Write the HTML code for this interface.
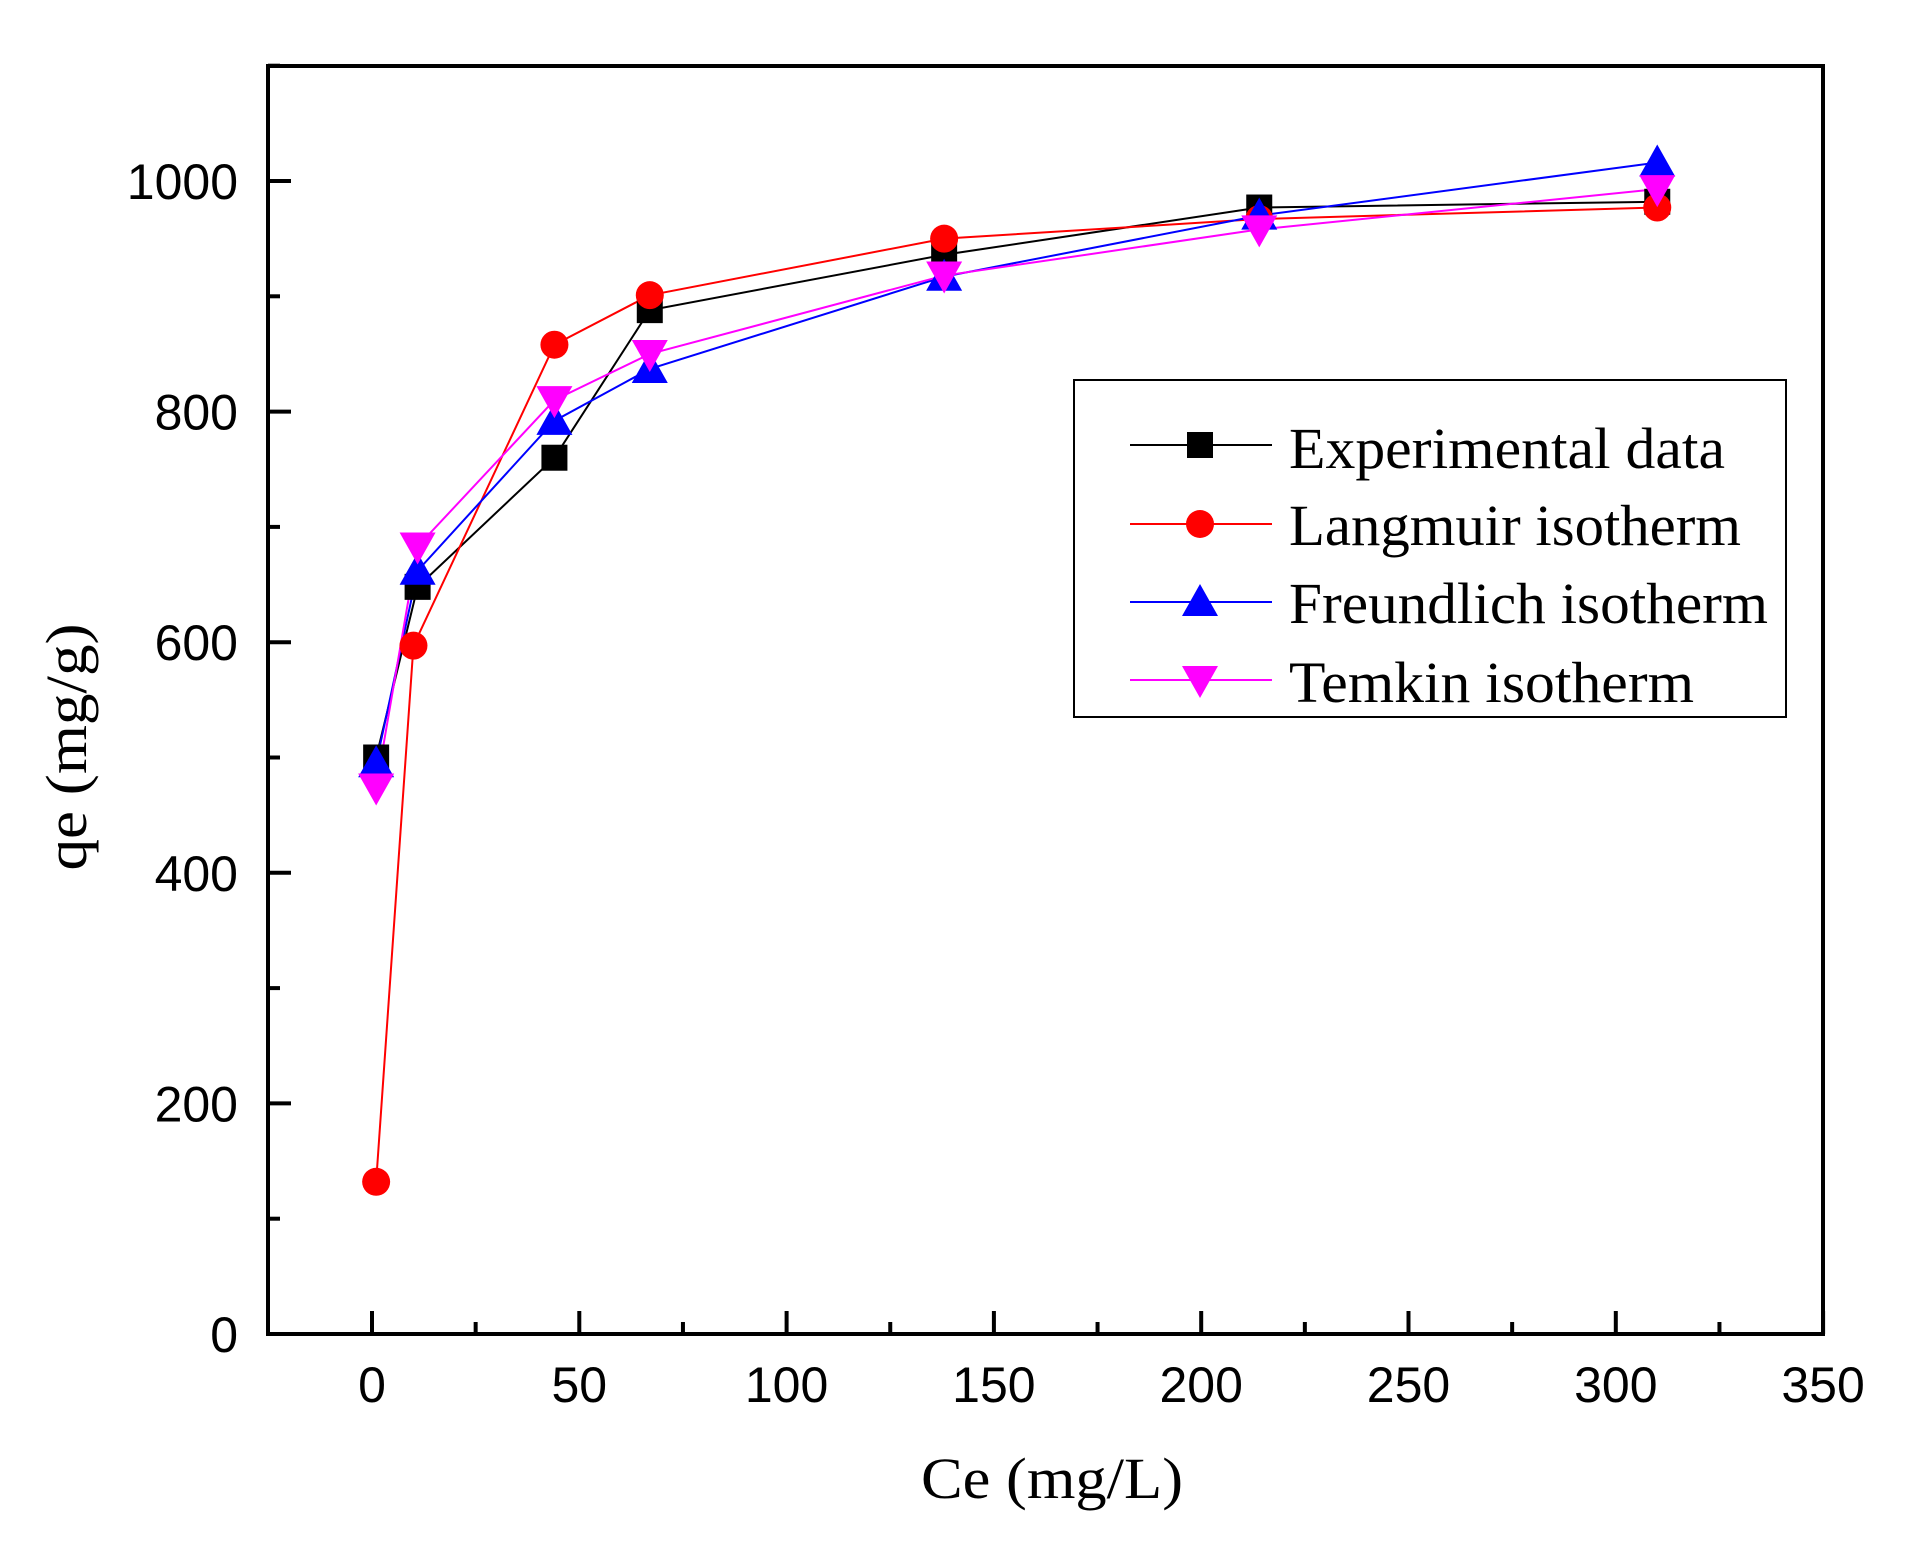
<!DOCTYPE html>
<html><head><meta charset="utf-8"><style>html,body{margin:0;padding:0;background:#fff}svg{display:block}</style></head>
<body>
<svg width="1926" height="1545" viewBox="0 0 1926 1545" xmlns="http://www.w3.org/2000/svg">
<rect width="1926" height="1545" fill="#fff"/>
<g id="plot"></g>
<script>
(function(){
var NS="http://www.w3.org/2000/svg",g=document.getElementById('plot');
function X(v){return 372+v*4.146;}
function Y(v){return 1334-v*1.153;}
function el(t,a,txt){var e=document.createElementNS(NS,t);for(var k in a)e.setAttribute(k,a[k]);if(txt!=null)e.textContent=txt;g.appendChild(e);return e;}
for(var v=0;v<=350;v+=25){var maj=v%50==0;el('line',{x1:X(v),x2:X(v),y1:1334,y2:1334-(maj?23:12),stroke:'#000','stroke-width':4});
 if(maj)el('text',{x:X(v),y:1402,'text-anchor':'middle','font-family':'Liberation Sans, Arial, sans-serif','font-size':50},String(v));}
for(var v=0;v<=1100;v+=100){var maj=v%200==0;el('line',{x1:268,x2:268+(maj?23:12),y1:Y(v),y2:Y(v),stroke:'#000','stroke-width':4});
 if(maj)el('text',{x:238,y:Y(v)+18,'text-anchor':'end','font-family':'Liberation Sans, Arial, sans-serif','font-size':50},String(v));}
el('rect',{x:268,y:66,width:1555,height:1268,fill:'none',stroke:'#000','stroke-width':4});
var xs=[1,11,44,67,138,214,310];
var S=[
 {c:'#000',m:'sq',d:[500,648,760,888,936,977,982],x:xs},
 {c:'#f00',m:'ci',d:[132,597,858,901,950,967,977],x:[1,10,44,67,138,214,310]},
 {c:'#00f',m:'tu',d:[495,662,792,837,917,970,1016],x:xs},
 {c:'#f0f',m:'td',d:[474,683,810,850,918,958,993],x:xs}];
function mk(m,x,y,c){
 if(m=='sq')el('rect',{x:x-13,y:y-13,width:26,height:26,fill:c});
 else if(m=='ci')el('ellipse',{cx:x,cy:y,rx:14,ry:14,fill:c});
 else if(m=='tu')el('polygon',{points:(x-18)+','+(y+14)+' '+(x+18)+','+(y+14)+' '+x+','+(y-18),fill:c});
 else el('polygon',{points:(x-18)+','+(y-14)+' '+(x+18)+','+(y-14)+' '+x+','+(y+18),fill:c});}
S.forEach(function(s){var p=s.d.map(function(v,i){return X(s.x[i])+','+Y(v);}).join(' ');
 el('polyline',{points:p,fill:'none',stroke:s.c,'stroke-width':2});});
S.forEach(function(s){s.d.forEach(function(v,i){mk(s.m,X(s.x[i]),Y(v),s.c);});});
el('rect',{x:1074,y:380,width:712,height:337,fill:'#fff',stroke:'#000','stroke-width':2});
var L=[['Experimental data',445,468,436],['Langmuir isotherm',524,545,452],['Freundlich isotherm',602,623,479],['Temkin isotherm',680,702,405]];
L.forEach(function(l,i){var s=S[i];el('line',{x1:1130,x2:1272,y1:l[1],y2:l[1],stroke:s.c,'stroke-width':2});mk(s.m,1200,l[1],s.c);
 el('text',{x:1289,y:l[2],'font-family':'Liberation Serif, Times New Roman, serif','font-size':58,textLength:l[3],lengthAdjust:'spacingAndGlyphs'},l[0]);});
el('text',{x:921,y:1498,'font-family':'Liberation Serif, Times New Roman, serif','font-size':58,textLength:262,lengthAdjust:'spacingAndGlyphs'},'Ce (mg/L)');
el('text',{x:0,y:0,'font-family':'Liberation Serif, Times New Roman, serif','font-size':58,'text-anchor':'middle',textLength:247,lengthAdjust:'spacingAndGlyphs',transform:'translate(86,747) rotate(-90)'},'qe (mg/g)');
})();
</script>
</svg>
</body></html>
